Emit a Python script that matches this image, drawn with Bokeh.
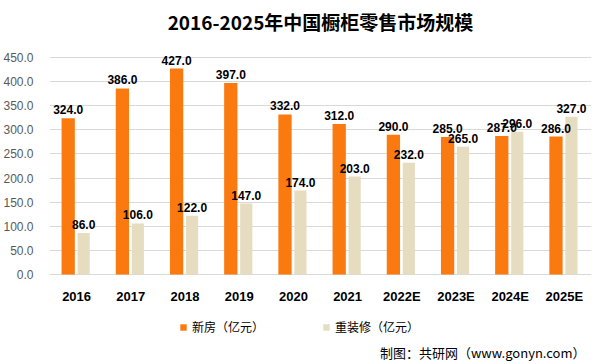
from bokeh.plotting import figure
from bokeh.models import ColumnDataSource, FactorRange, FixedTicker, NumeralTickFormatter, Legend, LegendItem, Title, Label
from bokeh.transform import dodge
from bokeh.core.properties import value
from bokeh.embed import file_html
from bokeh.resources import INLINE

years = ["2016", "2017", "2018", "2019", "2020", "2021", "2022E", "2023E", "2024E", "2025E"]
new_house = [324, 386, 427, 397, 332, 312, 290, 285, 287, 286]
renovation = [86, 106, 122, 147, 174, 203, 232, 265, 296, 327]
y_ticks = [0, 50, 100, 150, 200, 250, 300, 350, 400, 450]

src = ColumnDataSource(dict(
    year=years,
    new=new_house,
    reno=renovation,
    new_lbl=[f"{v:.1f}" for v in new_house],
    reno_lbl=[f"{v:.1f}" for v in renovation],
    base=[0] * len(years),
))

# frame extends below zero to host category labels, legend and source note
p = figure(x_range=FactorRange(*years, range_padding=0), y_range=(-184.6, 493.6),
           width=604, height=363, output_backend="svg", toolbar_location=None,
           min_border_left=48, min_border_right=13, min_border_top=36, min_border_bottom=0)

p.title = Title(text="2016-2025年中国橱柜零售市场规模", align="center",
                text_font="Noto Sans CJK SC", text_font_size="19px", text_font_style="bold",
                text_color="#000000", standoff=4, offset=-21)

ORANGE = "#FA7A10"
BEIGE = "#E6DCC0"
r1 = p.vbar(x=dodge("year", -0.155, range=p.x_range), top="new", width=0.245, source=src,
            fill_color=ORANGE, line_color=None)
r2 = p.vbar(x=dodge("year", 0.13, range=p.x_range), top="reno", width=0.225, source=src,
            fill_color=BEIGE, line_color=None)

lbl_kw = dict(text_font=value("Liberation Sans"), text_font_size="12px", text_font_style="bold",
              text_color="#000000", text_align="center", text_baseline="bottom", y_offset=-4, source=src)
p.text(x=dodge("year", -0.155, range=p.x_range), y="new", text="new_lbl", **lbl_kw)
p.text(x=dodge("year", 0.13, range=p.x_range), y="reno", text="reno_lbl", **lbl_kw)

# category labels
p.text(x="year", y="base", text="year", source=src, y_offset=22,
       text_font=value("Liberation Sans"), text_font_size="13px", text_font_style="bold",
       text_color="#000000", text_align="center", text_baseline="middle")

p.xaxis.visible = False
p.yaxis.ticker = FixedTicker(ticks=y_ticks)
p.yaxis.formatter = NumeralTickFormatter(format="0.0")
p.yaxis.axis_line_color = None
p.yaxis.major_tick_line_color = None
p.yaxis.minor_tick_line_color = None
p.yaxis.major_label_text_font = "Liberation Sans"
p.yaxis.major_label_text_font_size = "12px"
p.yaxis.major_label_text_color = "#595959"
p.yaxis.major_label_standoff = 10

p.xgrid.grid_line_color = None
p.ygrid.grid_line_color = "#D9D9D9"
p.ygrid.ticker = FixedTicker(ticks=y_ticks)
p.outline_line_color = None

legend = Legend(items=[LegendItem(label="新房（亿元）", renderers=[r1]),
                       LegendItem(label="重装修（亿元）", renderers=[r2])],
                orientation="horizontal", location=(130, 28),
                label_text_font="Noto Sans CJK SC", label_text_font_size="12px",
                label_text_color="#000000", glyph_width=8, glyph_height=8,
                label_height=14, spacing=58, label_standoff=5, border_line_color=None,
                background_fill_alpha=0, margin=0, padding=4)
p.add_layout(legend, "center")

p.add_layout(Label(x=9.89, y=-161.8, text="制图：共研网（www.gonyn.com）",
                   text_align="right", text_baseline="middle",
                   text_font="Noto Sans CJK SC", text_font_size="13px", text_color="#000000"))

open("out.html", "w").write(file_html(p, INLINE))
